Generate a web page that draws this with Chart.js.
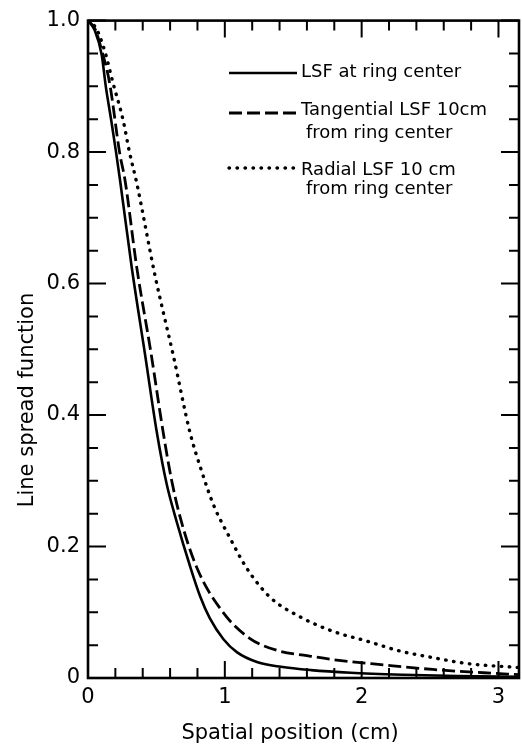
<!DOCTYPE html>
<html>
<head>
<meta charset="utf-8">
<script src="https://cdn.jsdelivr.net/npm/chart.js@4.4.0/dist/chart.umd.min.js"></script>
<style>
  html, body { margin: 0; padding: 0; background: #fff; }
  canvas { display: block; }
</style>
</head>
<body>
<canvas id="lsf" width="522" height="744"></canvas>
<script>
/* Line spread function vs spatial position, three curves */

// LSF at ring center (solid)
const CENTER_X = [0, 0.05, 0.10, 0.13, 0.17, 0.205, 0.235, 0.32, 0.417, 0.502, 0.575, 0.648, 0.746, 0.82, 0.89, 0.99, 1.09, 1.24, 1.41, 1.63, 1.92, 2.30, 2.70, 3.15];
const CENTER_Y = [1.0, 0.985, 0.948, 0.90, 0.848, 0.80, 0.756, 0.624, 0.492, 0.375, 0.295, 0.238, 0.170, 0.124, 0.091, 0.059, 0.039, 0.024, 0.017, 0.012, 0.008, 0.005, 0.003, 0.002];

// Tangential LSF 10 cm from ring center (dashed)
const TANG_X = [0, 0.05, 0.10, 0.158, 0.232, 0.27, 0.356, 0.46, 0.55, 0.61, 0.673, 0.795, 0.99, 1.184, 1.40, 1.60, 1.79, 2.16, 2.52, 2.89, 3.15];
const TANG_Y = [1.0, 0.988, 0.955, 0.905, 0.798, 0.758, 0.625, 0.495, 0.373, 0.302, 0.245, 0.168, 0.099, 0.060, 0.041, 0.034, 0.028, 0.020, 0.013, 0.008, 0.005];

// Radial LSF 10 cm from ring center (dotted)
const RAD_X = [0, 0.06, 0.122, 0.183, 0.256, 0.305, 0.355, 0.49, 0.624, 0.746, 0.83, 0.92, 1.04, 1.16, 1.33, 1.55, 1.79, 2.04, 2.28, 2.52, 2.77, 3.15];
const RAD_Y = [1.0, 0.988, 0.954, 0.905, 0.849, 0.798, 0.754, 0.612, 0.490, 0.373, 0.315, 0.262, 0.212, 0.167, 0.123, 0.093, 0.071, 0.056, 0.041, 0.031, 0.022, 0.016];

const X_TICKS = [0, 1, 2, 3];
const X_LABELS = ['0', '1', '2', '3'];
const X_MINOR = [0.2, 0.4, 0.6, 0.8, 1.2, 1.4, 1.6, 1.8, 2.2, 2.4, 2.6, 2.8];
const Y_TICKS = [0, 0.2, 0.4, 0.6, 0.8, 1.0];
const Y_LABELS = ['0', '0.2', '0.4', '0.6', '0.8', '1.0'];
const Y_MINOR = [0.05, 0.1, 0.15, 0.25, 0.3, 0.35, 0.45, 0.5, 0.55, 0.65, 0.7, 0.75, 0.85, 0.9, 0.95];

const LEGEND = [
  { lines: ['LSF at ring center'], dash: [], width: 2.6 },
  { lines: ['Tangential LSF 10cm', 'from ring center'], dash: [13, 5], width: 2.8 },
  { lines: ['Radial LSF 10 cm', 'from ring center'], dash: [0.5, 7.5], width: 3.4 },
];

const FONT = 'DejaVu Sans';
const INK = '#000';

const pts = (xs, ys) => xs.map((x, i) => ({ x, y: ys[i] }));

/* frame, inward ticks, legend and axis titles */
const decor = {
  id: 'decor',
  afterDraw(chart) {
    const { ctx, chartArea: a, scales: { x, y } } = chart;
    ctx.save();
    ctx.strokeStyle = INK;
    ctx.lineWidth = 2.6;
    ctx.strokeRect(a.left, a.top, a.right - a.left, a.bottom - a.top);

    ctx.lineWidth = 2;
    const tickY = (v, len) => {
      const py = y.getPixelForValue(v);
      ctx.beginPath();
      ctx.moveTo(a.left, py); ctx.lineTo(a.left + len, py);
      ctx.moveTo(a.right, py); ctx.lineTo(a.right - len, py);
      ctx.stroke();
    };
    const tickX = (v, len) => {
      const px = x.getPixelForValue(v);
      ctx.beginPath();
      ctx.moveTo(px, a.bottom); ctx.lineTo(px, a.bottom - len);
      ctx.moveTo(px, a.top); ctx.lineTo(px, a.top + len);
      ctx.stroke();
    };
    Y_TICKS.forEach(v => tickY(v, 18));
    Y_MINOR.forEach(v => tickY(v, 10));
    X_TICKS.forEach(v => tickX(v, 17));
    X_MINOR.forEach(v => tickX(v, 10));

    // legend
    ctx.fillStyle = INK;
    ctx.font = `18px "${FONT}"`;
    ctx.textBaseline = 'alphabetic';
    const rows = [
      { y: 73, base: [77] },
      { y: 113, base: [114.5, 138] },
      { y: 168, base: [175, 194] },
    ];
    LEGEND.forEach((item, i) => {
      const r = rows[i];
      ctx.lineWidth = item.width;
      ctx.lineCap = item.dash.length && item.dash[0] < 1 ? 'round' : 'butt';
      ctx.setLineDash(item.dash);
      ctx.beginPath();
      ctx.moveTo(229, r.y); ctx.lineTo(297, r.y);
      ctx.stroke();
      ctx.setLineDash([]);
      item.lines.forEach((t, j) => {
        ctx.fillText(t, j === 0 ? 301 : 306, r.base[j]);
      });
    });

    // axis titles
    ctx.font = `21px "${FONT}"`;
    ctx.textAlign = 'center';
    ctx.fillText('Spatial position (cm)', 290, 739);
    ctx.translate(33, 400);
    ctx.rotate(-Math.PI / 2);
    ctx.fillText('Line spread function', 0, 0);
    ctx.restore();
  }
};

new Chart(document.getElementById('lsf'), {
  type: 'line',
  data: {
    datasets: [
      { label: 'LSF at ring center', data: pts(CENTER_X, CENTER_Y), borderColor: INK, borderWidth: 2.6 },
      { label: 'Tangential LSF 10cm from ring center', data: pts(TANG_X, TANG_Y), borderColor: INK, borderWidth: 2.8, borderDash: [13, 5] },
      { label: 'Radial LSF 10 cm from ring center', data: pts(RAD_X, RAD_Y), borderColor: INK, borderWidth: 3.4, borderDash: [0.5, 7.5], borderCapStyle: 'round' },
    ]
  },
  options: {
    responsive: false,
    devicePixelRatio: 1,
    animation: false,
    layout: { padding: { top: 16, right: 3, left: 0, bottom: 0 } },
    elements: {
      point: { radius: 0 },
      line: { cubicInterpolationMode: 'monotone', fill: false }
    },
    plugins: { legend: { display: false }, tooltip: { enabled: false } },
    scales: {
      x: {
        type: 'linear', min: 0, max: 3.15,
        afterBuildTicks: s => { s.ticks = X_TICKS.map(value => ({ value })); },
        afterFit: s => { s.height = 66; },
        grid: { display: false, drawTicks: false },
        border: { display: false },
        ticks: { color: INK, padding: 7, font: { family: FONT, size: 21 }, maxRotation: 0, callback: (v, i) => X_LABELS[i] }
      },
      y: {
        type: 'linear', min: 0, max: 1,
        afterBuildTicks: s => { s.ticks = Y_TICKS.map(value => ({ value })); },
        afterFit: s => { s.width = 88; },
        grid: { display: false, drawTicks: false },
        border: { display: false },
        ticks: { color: INK, padding: 8, font: { family: FONT, size: 21 }, callback: (v, i) => Y_LABELS[i] }
      }
    }
  },
  plugins: [decor]
});
</script>
</body>
</html>
